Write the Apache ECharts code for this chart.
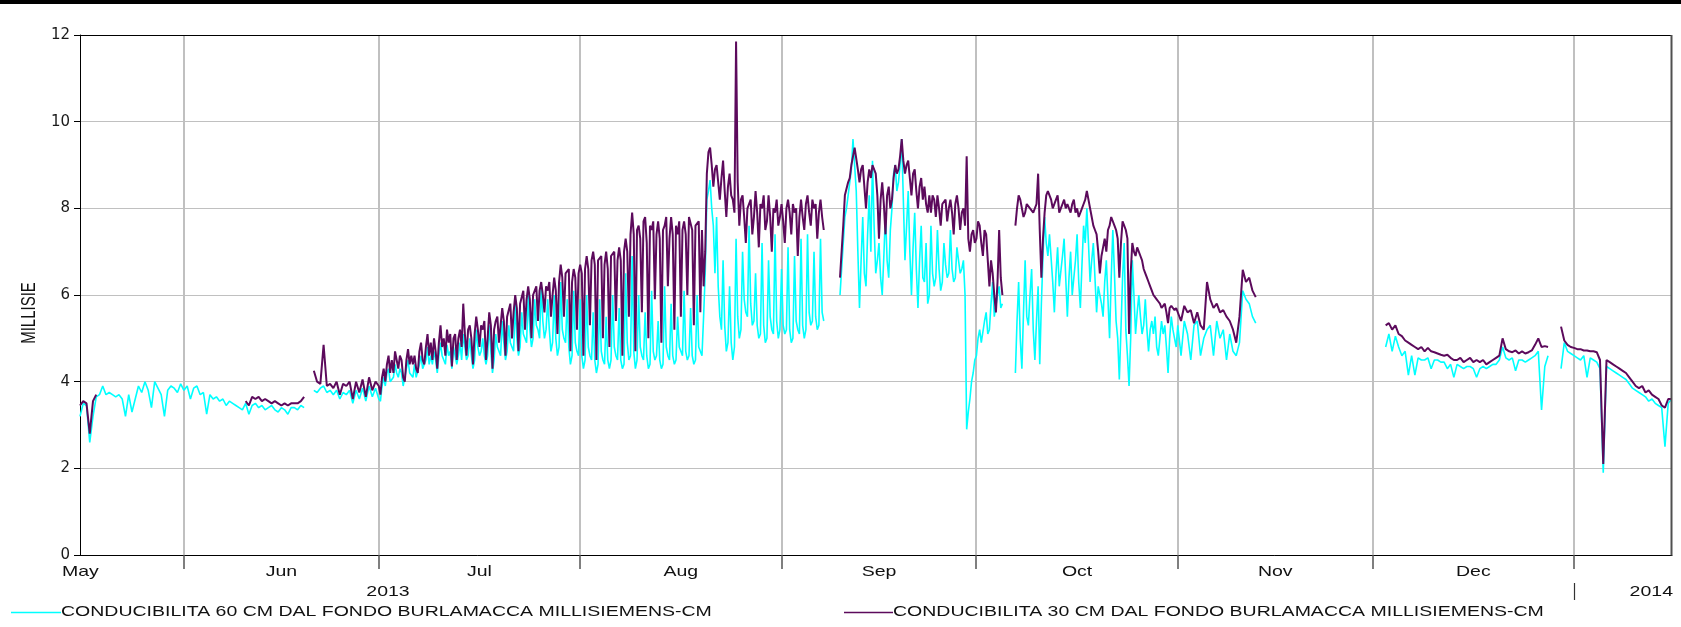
<!DOCTYPE html>
<html><head><meta charset="utf-8">
<script src="https://cdn.jsdelivr.net/npm/echarts@6/dist/echarts.min.js"></script>
<style>html,body{margin:0;padding:0;background:#fff}#c{width:1681px;height:627px}</style>
</head><body><div id="c"></div>
<script>
const cyanName = 'CONDUCIBILITA 60 CM DAL FONDO BURLAMACCA MILLISIEMENS-CM';
const purpleName = 'CONDUCIBILITA 30 CM DAL FONDO BURLAMACCA MILLISIEMENS-CM';
const yAxisTitle = 'MILLISIE';
const monthLabels = ['May', 'Jun', 'Jul', 'Aug', 'Sep', 'Oct', 'Nov', 'Dec'];
const monthStarts = ['2013-06-01T00:00:00', '2013-07-01T00:00:00', '2013-08-01T00:00:00', '2013-09-01T00:00:00',
  '2013-10-01T00:00:00', '2013-11-01T00:00:00', '2013-12-01T00:00:00', '2014-01-01T00:00:00'];
const yearLabels = ['2013', '2014'];
const xMin = '2013-05-16T00:00:00';
const xMax = '2014-01-16T02:00:00';

// ---- 60 cm series (cyan) ----
// 12-hour steps
const cyanMayJun = [3.2,3.5, 3.45,2.6, 3.2,3.65, 3.7,3.9, 3.7,3.75, 3.7,3.65, 3.7,3.6, 3.2,3.7, 3.3,3.6, 3.9,3.75,
  4.0,3.8, 3.4,4.0, 3.85,3.7, 3.2,3.8, 3.9,3.85, 3.75,3.95, 3.8,3.9, 3.6,3.85, 3.9,3.7, 3.75,3.25,
  3.7,3.6, 3.65,3.55, 3.6,3.45, 3.55,3.5, 3.45,3.4, 3.35,3.5, 3.25,3.45, 3.5,3.4, 3.45,3.35, 3.4,3.45,
  3.35,3.3, 3.4,3.35, 3.25,3.4, 3.4,3.35, 3.45,3.4];
const cyanLateJun = [3.8,3.75, 3.85,3.9, 3.75,3.8, 3.7,3.8, 3.6,3.75, 3.7,3.8, 3.5,3.8, 3.6,3.85, 3.55,3.9, 3.65,3.85];
// 6-hour steps
const cyanJulSep = [
  3.6,3.55,3.9,4.1, 3.9,4.2,4.3,4.0, 4.0,4.1,4.4,4.2, 4.1,4.3,4.2,3.9, 3.9,4.3,4.5,4.2,
  4.2,4.1,4.4,4.1, 4.1,4.4,4.6,4.3, 4.3,4.5,4.8,4.4, 4.6,4.4,4.7,4.5, 4.2,4.6,4.9,4.6,
  4.5,4.4,4.85,4.6, 4.7,4.3,4.8,4.6, 4.4,4.6,4.9,4.5, 5.1,4.8,4.5,4.6, 5.0,4.6,4.3,4.5,
  5.2,4.8,4.6,4.7, 5.0,4.6,4.4,4.6, 5.3,4.7,4.2,4.5, 5.1,4.8,4.7,4.6, 5.4,4.9,4.5,4.7,
  5.3,4.9,4.8,4.7, 5.8,5.0,4.6,4.8, 5.6,5.1,5.0,4.9, 6.0,5.2,4.8,5.0, 5.9,5.3,5.2,5.0,
  6.2,5.4,5.0,5.2, 5.9,5.2,4.7,4.9, 6.0,5.0,4.6,4.8, 6.3,5.2,5.0,4.9, 5.9,4.8,4.4,4.6,
  6.1,4.9,4.7,4.6,
  5.9,4.6,4.3,4.5, 6.0,4.8,4.6,4.5, 5.6,4.5,4.2,4.4, 5.9,4.7,4.5,4.4, 5.5,4.5,4.3,4.5,
  6.0,4.8,4.6,4.5, 5.7,4.5,4.3,4.4, 6.5,4.9,4.5,4.6, 6.9,4.7,4.3,4.5, 6.0,4.8,4.6,4.5,
  5.6,4.6,4.3,4.4, 6.1,4.7,4.5,4.6, 5.4,4.5,4.3,4.4, 6.2,4.8,4.6,4.5, 5.8,4.6,4.4,4.5,
  5.5,4.8,4.7,4.6, 6.1,4.7,4.5,4.6, 5.7,4.6,4.4,4.5, 6.0,4.8,4.7,4.6, 5.5,6.5,8.2,8.4,
  8.65,8.0,7.6,6.5, 7.8,6.2,5.5,5.2, 6.8,5.3,4.7,4.9, 6.2,4.9,4.5,4.8, 7.3,5.5,5.0,5.2,
  7.0,5.9,5.6,5.5, 7.6,5.8,5.3,5.4, 6.5,5.3,5.0,5.1, 7.2,5.3,4.9,5.0, 6.8,5.5,5.2,5.1,
  7.4,5.4,5.0,5.2,
  6.6,5.3,5.1,5.2, 7.1,5.2,4.9,5.0, 6.9,5.4,5.2,5.1, 7.3,5.3,5.0,5.2, 7.4,5.6,5.3,5.4,
  7.0,5.5,5.2,5.3, 7.3,5.6,5.4];
const cyanSepOct = [
  6.0,6.6,7.2,7.8, 8.0,8.3,8.6,8.9, 9.6,9.0,8.4,7.0, 5.7,6.8,7.8,6.5, 6.2,7.4,8.3,7.0,
  9.1,7.6,6.5,6.8, 7.2,6.4,6.0,6.9, 7.9,6.8,6.4,7.5, 8.0,8.8,9.0,8.4, 8.6,9.0,9.6,8.2,
  6.8,7.6,8.4,7.0, 6.0,7.1,7.9,6.6, 5.7,6.8,7.6,6.4, 6.3,7.2,5.8,6.0, 7.6,6.5,6.2,6.4,
  7.5,6.6,6.1,6.3, 7.2,6.7,6.4,6.5, 7.5,6.6,6.3,6.4, 7.1,6.8,6.5,6.6, 6.8,6.0,2.9,3.3,
  3.6,4.0,4.2,4.5, 4.6,5.0,5.2,4.9, 4.9,5.4,5.6,5.1, 5.2,5.8,6.3,5.5, 5.5,6.0,6.2,5.7, 5.8];
const cyanOct = [
  4.2,5.4,6.3,5.0, 4.3,5.6,6.8,5.5, 5.3,6.0,6.6,5.2, 4.5,5.4,6.2,4.4, 5.8,6.9,7.8,7.2,
  6.9,7.4,7.4,6.3, 5.6,6.5,7.1,6.2, 6.2,6.9,7.3,6.4, 5.5,6.4,7.0,6.0, 6.0,6.8,7.4,6.3,
  5.7,6.7,7.6,7.2, 8.0,7.2,6.3,6.8, 7.2,6.4,5.6,6.2, 6.2,5.8,5.5,6.3, 6.8,5.9,5.0,6.4,
  7.5,6.5,5.4,5.0, 4.05,5.2,6.4,7.2, 5.2,4.6,3.9,5.0, 6.8,6.0,5.1,5.6, 6.0,5.5,5.1,5.3,
  5.9,5.2,4.7,5.2, 5.4,5.1,5.5,4.8, 4.6,5.0,5.4,5.1, 5.3,4.8,4.2,5.0, 5.5,5.2,5.0,4.8];
// 12-hour steps
const cyanNov = [5.3,4.6, 5.4,5.1, 4.5,5.3, 5.4,4.6, 5.0,5.2, 5.3,4.6, 5.4,5.0, 5.2,4.5, 5.1,4.7, 4.6,4.9,
  6.1,5.9, 5.8,5.5, 5.35];
const cyanDec = [4.8,5.1, 4.7,5.05, 4.8,4.6, 4.7,4.15, 4.6,4.15, 4.55,4.5, 4.5,4.55, 4.3,4.5, 4.5,4.45, 4.45,4.3,
  4.4,4.1, 4.4,4.35, 4.3,4.35, 4.35,4.3, 4.1,4.3, 4.35,4.3, 4.35,4.4, 4.4,4.5, 4.8,4.55, 4.5,4.55,
  4.25,4.5, 4.5,4.45, 4.5,4.55, 4.6,4.7, 3.35,4.35, 4.6];
const cyanJan = [4.3,4.9, 4.7,4.65,
  4.6,4.55, 4.5,4.6, 4.1,4.55, 4.5,4.45, 4.3,1.9, 4.35,4.3, 4.25,4.2, 4.15,4.1, 4.05,3.95, 3.85,3.8,
  3.75,3.7, 3.65,3.55, 3.6,3.5, 3.45,3.4, 2.5,3.5, 3.6];

// ---- 30 cm series (purple) ----
// 12-hour steps
const purpleMay = [3.45,3.55, 3.5,2.8, 3.55,3.7];
const purpleJun = [3.55,3.45, 3.65,3.6, 3.65,3.55, 3.6,3.55, 3.5,3.55, 3.5,3.45, 3.5,3.45, 3.5,3.5, 3.5,3.55, 3.65];
const purpleLateJun = [4.25,4.0, 3.95,4.85, 3.9,3.95, 3.85,4.0, 3.7,3.95, 3.9,4.0, 3.6,4.0, 3.75,4.05, 3.65,4.1, 3.8,4.0];
// 6-hour steps
const purpleJulSep = [
  3.9,3.7,4.1,4.3, 4.0,4.4,4.6,4.2, 4.5,4.2,4.7,4.5, 4.3,4.6,4.5,4.1, 4.0,4.5,4.75,4.4,
  4.6,4.4,4.6,4.3, 4.2,4.7,4.9,4.5, 4.4,4.8,5.1,4.6, 4.9,4.5,5.0,4.7, 4.3,4.9,5.3,4.8,
  5.0,4.6,5.2,4.9, 5.1,4.35,5.0,5.1, 4.5,5.0,5.2,4.8, 5.8,5.1,4.6,5.2, 5.3,5.0,4.4,5.1,
  5.5,5.2,4.8,5.3, 5.2,5.4,4.5,5.0, 5.6,5.3,4.3,5.2, 5.4,5.5,4.9,5.3, 5.7,5.4,4.6,5.5,
  5.5,5.8,5.0,5.6, 6.0,5.7,4.7,5.8, 5.8,6.1,5.2,5.9, 6.2,5.9,5.0,6.0, 6.0,6.2,5.4,6.1,
  6.3,6.0,5.6,6.2, 6.1,6.3,5.5,6.0, 6.4,6.1,5.1,6.3, 6.7,6.4,5.5,6.5, 6.5,6.6,4.7,6.3,
  6.6,6.4,5.2,6.5,
  6.7,6.5,4.6,6.6, 6.9,6.6,5.3,6.8, 7.0,6.7,4.5,6.8, 6.8,6.9,5.0,6.7, 7.0,6.6,4.8,6.9,
  6.9,7.0,5.4,6.8, 7.1,6.8,4.6,7.0, 7.3,7.0,5.5,7.4, 7.9,7.4,4.7,7.5, 7.6,7.3,5.6,7.7,
  7.8,7.2,5.0,7.6, 7.5,7.7,5.9,7.4, 7.7,7.3,4.9,7.5, 7.6,7.8,6.2,7.3, 7.8,7.4,5.2,7.6,
  7.4,7.7,5.5,7.5, 7.7,7.4,6.0,7.8, 7.8,7.5,5.3,7.6, 7.6,7.7,5.6,7.5, 6.2,7.0,8.8,9.3,
  9.4,9.0,8.5,8.9, 9.0,8.6,8.2,8.7, 9.1,8.4,7.8,8.5, 8.8,8.3,8.2,7.9, 11.85,8.6,7.6,8.2,
  8.3,7.8,7.2,8.0, 8.0,8.2,7.4,7.8, 8.4,7.9,7.1,8.1, 8.0,8.3,7.5,7.7, 8.3,7.8,7.0,8.0,
  7.9,8.2,7.6,7.8,
  8.1,7.7,7.2,8.0, 8.2,7.9,7.4,8.1, 7.9,8.0,6.9,7.8, 8.2,7.8,7.5,8.1, 8.3,7.9,7.6,8.2,
  8.0,8.1,7.3,7.9, 8.2,7.8,7.5];
const purpleSepOct = [
  6.4,7.0,7.6,8.3, 8.3,8.6,8.7,9.0, 9.2,9.4,9.4,8.9, 8.6,8.9,9.0,8.5, 8.0,8.6,8.9,8.7,
  9.0,8.9,8.8,8.3, 7.3,8.2,8.6,8.1, 7.4,8.3,8.5,8.0, 8.2,8.7,9.0,8.8, 8.9,9.2,9.6,9.1,
  8.8,9.0,9.1,8.7, 8.3,8.8,8.9,8.4, 8.0,8.5,8.7,8.2, 8.5,8.1,7.9,8.3, 7.9,8.3,8.2,7.8,
  8.3,8.0,7.6,8.1, 8.1,8.2,7.7,8.0, 8.2,7.9,7.4,8.1, 8.3,8.0,7.5,7.9, 8.0,7.6,9.2,7.3,
  7.0,7.4,7.5,7.2, 7.3,7.7,7.6,7.2, 6.9,7.5,7.4,6.8, 6.2,6.8,6.5,6.0, 5.6,6.3,7.5,6.4, 6.0];
const purpleOct = [
  7.6,8.0,8.3,8.2, 8.2,7.8,7.9,8.1, 8.1,8.0,8.0,7.9, 7.9,8.1,8.8,7.5, 6.4,7.3,7.9,8.3,
  8.4,8.3,8.2,8.0, 8.0,8.2,8.3,7.9, 7.9,8.1,8.2,8.0, 8.1,8.0,7.9,8.1, 8.2,7.9,8.0,7.8,
  7.8,8.0,8.1,8.2, 8.4,8.2,8.0,7.8, 7.6,7.5,7.4,7.0, 6.5,6.9,7.1,7.3, 7.0,7.5,7.6,7.8,
  7.8,7.6,7.5,7.3, 6.4,7.2,7.7,7.6, 7.5,7.3,5.1,6.5, 7.2,7.0,6.9,7.1, 7.1,6.9,6.8,6.6,
  6.5,6.4,6.3,6.2, 6.1,6.0,5.95,5.9, 5.85,5.8,5.7,5.75, 5.8,5.6,5.35,5.7, 5.75,5.7,5.65,5.7];
// 12-hour steps
const purpleNov = [5.7,5.4, 5.75,5.6, 5.65,5.35, 5.6,5.3, 5.2,6.3, 5.9,5.7, 5.8,5.6, 5.65,5.5, 5.4,5.2, 4.9,5.5,
  6.58,6.3, 6.4,6.1, 5.95];
const purpleDec = [5.3,5.35, 5.2,5.3, 5.1,5.05, 4.95,4.9, 4.85,4.8, 4.75,4.8, 4.7,4.78, 4.7,4.68, 4.65,4.62, 4.6,4.62,
  4.55,4.5, 4.5,4.55, 4.45,4.5, 4.55,4.45, 4.5,4.45, 4.5,4.4, 4.45,4.5, 4.55,4.6, 5.0,4.75, 4.7,4.68,
  4.72,4.65, 4.7,4.65, 4.68,4.72, 4.85,5.0, 4.8,4.82, 4.8];
const purpleJan = [5.27,4.95, 4.85,4.8,
  4.78,4.75, 4.75,4.72, 4.72,4.7, 4.7,4.68, 4.5,2.1, 4.5,4.45, 4.4,4.35, 4.3,4.25, 4.2,4.1, 4.0,3.9,
  3.85,3.9, 3.75,3.8, 3.7,3.65, 3.6,3.45, 3.4,3.6, 3.6];

const H = 3600 * 1000;
function tms(s) { return new Date(s).getTime(); }
function seg(start, stepH, vals) { const t0 = tms(start); return vals.map((v, i) => [t0 + i * stepH * H, v]); }
// runs are drawn continuously; a gap is left between runs
function build(runs) {
  const out = [];
  runs.forEach((run, k) => {
    const pts = [].concat(...run);
    if (k > 0) out.push([pts[0][0] - H, '-']);
    pts.forEach(p => out.push(p));
  });
  return out;
}
const cyanData = build([
  [seg('2013-05-16T00:00:00', 12, cyanMayJun)],
  [seg('2013-06-21T00:00:00', 12, cyanLateJun), seg('2013-07-01T00:00:00', 6, cyanJulSep)],
  [seg('2013-09-10T00:00:00', 6, cyanSepOct)],
  [seg('2013-10-07T00:00:00', 6, cyanOct), seg('2013-11-01T00:00:00', 12, cyanNov)],
  [seg('2013-12-03T00:00:00', 12, cyanDec)],
  [seg('2013-12-30T00:00:00', 12, cyanJan)]
]);
const purpleData = build([
  [seg('2013-05-16T00:00:00', 12, purpleMay)],
  [seg('2013-06-10T12:00:00', 12, purpleJun)],
  [seg('2013-06-21T00:00:00', 12, purpleLateJun), seg('2013-07-01T00:00:00', 6, purpleJulSep)],
  [seg('2013-09-10T00:00:00', 6, purpleSepOct)],
  [seg('2013-10-07T00:00:00', 6, purpleOct), seg('2013-11-01T00:00:00', 12, purpleNov)],
  [seg('2013-12-03T00:00:00', 12, purpleDec)],
  [seg('2013-12-30T00:00:00', 12, purpleJan)]
]);

const CYAN = '#00ffff', PURPLE = '#5c0a5c';
const chart = echarts.init(document.getElementById('c'), null, { renderer: 'canvas' });
chart.setOption({
  animation: false,
  backgroundColor: '#ffffff',
  grid: { left: 80, right: 9, top: 35, bottom: 72, containLabel: false },
  xAxis: {
    type: 'time', min: tms(xMin), max: tms(xMax),
    axisLine: { show: true, lineStyle: { color: '#000', width: 1 } },
    axisTick: { show: false }, axisLabel: { show: false }, splitLine: { show: false }
  },
  yAxis: {
    type: 'value', min: 0, max: 12, interval: 2,
    axisLine: { show: true, lineStyle: { color: '#000', width: 1 } },
    axisTick: { show: true, length: 6, lineStyle: { color: '#000' } },
    axisLabel: { color: '#1a1a1a', fontSize: 15, fontFamily: 'DejaVu Sans', margin: 10 },
    splitLine: { show: true, lineStyle: { color: '#c0c0c0', width: 1 } }
  },
  series: [
    { name: cyanName, type: 'line', data: cyanData, showSymbol: false, symbol: 'none',
      lineStyle: { color: CYAN, width: 1.6 }, itemStyle: { color: CYAN }, connectNulls: false, z: 3 },
    { name: purpleName, type: 'line', data: purpleData, showSymbol: false, symbol: 'none',
      lineStyle: { color: PURPLE, width: 2 }, itemStyle: { color: PURPLE }, connectNulls: false, z: 4 }
  ]
});

const px = t => chart.convertToPixel({ xAxisIndex: 0 }, t);
const py = v => chart.convertToPixel({ yAxisIndex: 0 }, v);
const yTop = py(12), yBot = py(0);
const xL = px(tms(xMin)), xR = px(tms(xMax));
const FONT = '15px "Liberation Sans", Arial, sans-serif';
const SX = 1.3;
function txt(text, x, y, align) {
  return { type: 'text', x: x, y: y, scaleX: SX, z: 10, silent: true,
    style: { text: text, x: 0, y: 0, font: FONT, fill: '#111', textAlign: align, align: align,
      textVerticalAlign: 'middle', verticalAlign: 'middle' } };
}
function line(x1, y1, x2, y2, color, w, z) {
  return { type: 'line', silent: true, z: z, shape: { x1: x1, y1: y1, x2: x2, y2: y2 }, style: { stroke: color, lineWidth: w } };
}
const g = [];
g.push({ type: 'rect', silent: true, z: 10, shape: { x: 0, y: 0, width: 1681, height: 4 }, style: { fill: '#000' } });
const starts = monthStarts.map(tms);
starts.forEach(t => {
  const x = Math.round(px(t));
  g.push(line(x, yTop, x, yBot, '#c0c0c0', 2, -1));
  g.push(line(x, yBot, x, yBot + 14, '#555', 1.5, 10));
});
g.push(line(xL, Math.round(yTop) + 0.5, xR, Math.round(yTop) + 0.5, '#000', 1, 10));
g.push(line(Math.round(xR) - 0.5, yTop, Math.round(xR) - 0.5, yBot + 0.5, '#505050', 2, 10));
const labelY = yBot + 17;
g.push(txt(monthLabels[0], xL - 18, labelY, 'left'));
for (let i = 1; i < monthLabels.length; i++) {
  g.push(txt(monthLabels[i], (px(starts[i - 1]) + px(starts[i])) / 2, labelY, 'center'));
}
const yearY = yBot + 37;
g.push(txt(yearLabels[0], 388, yearY, 'center'));
const xJan = Math.round(px(starts[starts.length - 1]));
g.push(line(xJan + 0.5, yBot + 28, xJan + 0.5, yBot + 45, '#333', 1.2, 10));
g.push(txt(yearLabels[1], xR + 1, yearY, 'right'));
const legY = 612;
g.push(line(11, legY + 0.5, 61, legY + 0.5, CYAN, 1.5, 10));
g.push(txt(cyanName, 61, legY, 'left'));
g.push(line(844, legY + 0.5, 893, legY + 0.5, PURPLE, 1.5, 10));
g.push(txt(purpleName, 893, legY, 'left'));
g.push({ type: 'text', x: 30, y: 313, rotation: Math.PI / 2, scaleY: 1.3, silent: true, z: 10,
  style: { text: yAxisTitle, x: 0, y: 0, font: FONT, fill: '#111', textAlign: 'center', align: 'center',
    textVerticalAlign: 'middle', verticalAlign: 'middle' } });
chart.setOption({ graphic: { elements: g } });
</script>
</body></html>
